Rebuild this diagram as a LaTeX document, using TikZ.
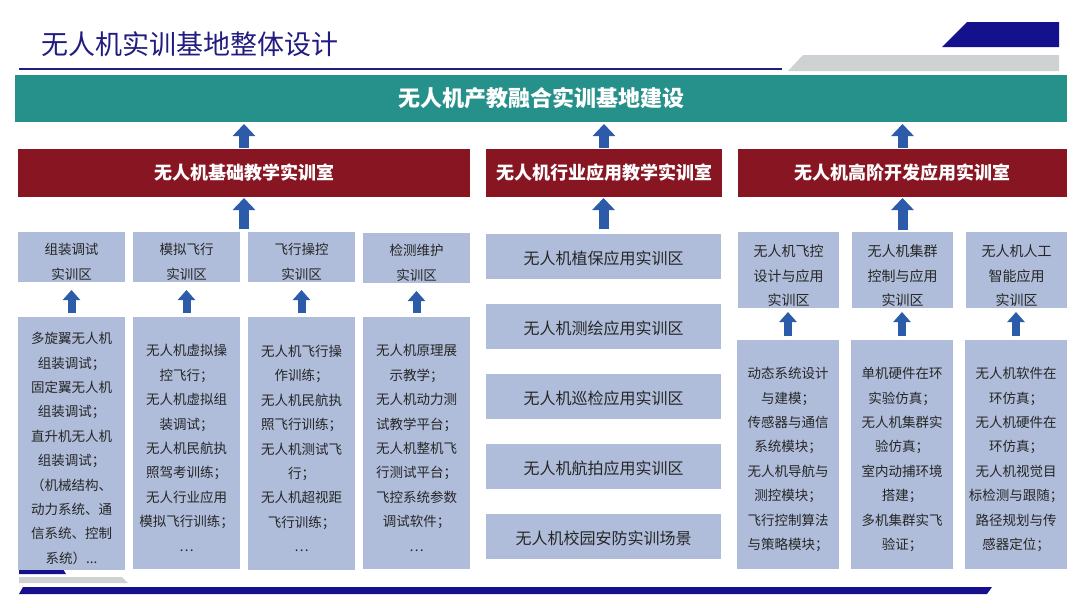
\documentclass[tikz,border=0pt]{standalone}
\usepackage{fontspec}
\setmainfont{Noto Sans CJK SC}
\usetikzlibrary{arrows.meta}
\definecolor{navy}{HTML}{15108C}
\definecolor{titlec}{HTML}{221C80}
\definecolor{tealc}{HTML}{26918A}
\definecolor{redc}{HTML}{871522}
\definecolor{boxc}{HTML}{AFBDDA}
\definecolor{grayc}{HTML}{CFD2D2}
\definecolor{arrowc}{HTML}{2B5BA9}
\definecolor{txtc}{HTML}{262626}
\tikzset{
  base/.style={anchor=north west, inner sep=0pt, outer sep=0pt, align=center},
  topbox/.style={base, fill=tealc, text=white, font=\fontsize{22}{24}\selectfont\bfseries},
  redbox/.style={base, fill=redc, text=white, minimum height=48, font=\fontsize{18}{20}\selectfont\bfseries},
  lbox/.style={base, fill=boxc},
  txt/.style={inner sep=0pt, align=center, text=txtc},
  zonetxt/.style={txt, font=\fontsize{13.5}{25}\selectfont},
  rzonetxt/.style={txt, font=\fontsize{14}{24.5}\selectfont},
  itemtxt/.style={txt, font=\fontsize{13.5}{24.4}\selectfont},
  midtxt/.style={txt, font=\fontsize{16}{18}\selectfont},
  bigarr/.style={arrowc, line width=10pt, -{Triangle[width=22pt,length=12pt]}},
  smallarr/.style={arrowc, line width=8pt, -{Triangle[width=17pt,length=10pt]}}
}
\begin{document}
\begin{tikzpicture}[x=1pt,y=-1pt]
\useasboundingbox (0,0) rectangle (1080,608);
% header decorations
\node[anchor=west, inner sep=0pt, text=titlec, font=\fontsize{27}{30}\selectfont] (title) at (41,44) {无人机实训基地整体设计};
\draw[titlec, line width=1.5pt] (19,69) -- (782,69);
\fill[grayc] (788,71) -- (803,55) -- (1059,55) -- (1059,71) -- cycle;
\fill[navy] (942,47) -- (967,22) -- (1059,22) -- (1059,47) -- cycle;
% footer decorations
\fill[navy] (19,564) -- (60,564) -- (66,574) -- (19,574) -- cycle;
\fill[grayc] (19,577) -- (122,577) -- (128,583) -- (19,583) -- cycle;
\fill[navy] (23,587) -- (992,587) -- (987,594) -- (19,594) -- cycle;

% top banner
\node[topbox, minimum width=1052, minimum height=47] (top) at (15,75) {无人机产教融合实训基地建设};
% rooms
\node[redbox, minimum width=452] (red1) at (18,149) {无人机基础教学实训室};
\node[redbox, minimum width=236] (red2) at (486,149) {无人机行业应用教学实训室};
\node[redbox, minimum width=329] (red3) at (738,149) {无人机高阶开发应用实训室};

% left group, zones
\node[lbox, minimum width=107, minimum height=50] (l2a) at (18,232) {};
\node[lbox, minimum width=107, minimum height=50] (l2b) at (133,232) {};
\node[lbox, minimum width=107, minimum height=50] (l2c) at (248,232) {};
\node[lbox, minimum width=107, minimum height=50] (l2d) at (363,233) {};
\node[zonetxt] (l2at) at ([yshift=-5pt]l2a.center) {组装调试\\实训区};
\node[zonetxt] (l2bt) at ([yshift=-5pt]l2b.center) {模拟飞行\\实训区};
\node[zonetxt] (l2ct) at ([yshift=-5pt]l2c.center) {飞行操控\\实训区};
\node[zonetxt] (l2dt) at ([yshift=-5pt]l2d.center) {检测维护\\实训区};
% left group, items
\node[lbox, minimum width=107, minimum height=253] (l3a) at (18,317) {};
\node[lbox, minimum width=107, minimum height=252] (l3b) at (133,317) {};
\node[lbox, minimum width=107, minimum height=253] (l3c) at (248,317) {};
\node[lbox, minimum width=107, minimum height=252] (l3d) at (363,317) {};
\node[itemtxt] (l3at) at ([yshift=-5pt]l3a.center) {多旋翼无人机\\组装调试；\\固定翼无人机\\组装调试；\\直升机无人机\\组装调试；\\（机械结构、\\动力系统、通\\信系统、控制\\系统）...};
\node[itemtxt] (l3bt) at ([yshift=-5pt]l3b.center) {无人机虚拟操\\控飞行；\\无人机虚拟组\\装调试；\\无人机民航执\\照驾考训练；\\无人行业应用\\模拟飞行训练；\\…};
\node[itemtxt] (l3ct) at ([yshift=-5pt]l3c.center) {无人机飞行操\\作训练；\\无人机民航执\\照飞行训练；\\无人机测试飞\\行；\\无人机超视距\\飞行训练；\\…};
\node[itemtxt] (l3dt) at ([yshift=-5pt]l3d.center) {无人机原理展\\示教学；\\无人机动力测\\试教学平台；\\无人机整机飞\\行测试平台；\\飞控系统参数\\调试软件；\\…};

% middle group
\node[lbox, minimum width=235, minimum height=45] (m1) at (486,234) {};
\node[lbox, minimum width=235, minimum height=45] (m2) at (486,304) {};
\node[lbox, minimum width=235, minimum height=45] (m3) at (486,374) {};
\node[lbox, minimum width=235, minimum height=45] (m4) at (486,444) {};
\node[lbox, minimum width=235, minimum height=45] (m5) at (486,514) {};
\node[midtxt] (m1t) at ([yshift=-2pt]m1.center) {无人机植保应用实训区};
\node[midtxt] (m2t) at ([yshift=-2pt]m2.center) {无人机测绘应用实训区};
\node[midtxt] (m3t) at ([yshift=-2pt]m3.center) {无人机巡检应用实训区};
\node[midtxt] (m4t) at ([yshift=-2pt]m4.center) {无人机航拍应用实训区};
\node[midtxt] (m5t) at ([yshift=-2pt]m5.center) {无人机校园安防实训场景};

% right group, zones
\node[lbox, minimum width=101, minimum height=76] (r2a) at (738,232) {};
\node[lbox, minimum width=101, minimum height=76] (r2b) at (852,232) {};
\node[lbox, minimum width=101, minimum height=76] (r2c) at (966,232) {};
\node[rzonetxt] (r2at) at ([yshift=-6pt]r2a.center) {无人机飞控\\设计与应用\\实训区};
\node[rzonetxt] (r2bt) at ([yshift=-6pt]r2b.center) {无人机集群\\控制与应用\\实训区};
\node[rzonetxt] (r2ct) at ([yshift=-6pt]r2c.center) {无人机人工\\智能应用\\实训区};
% right group, items
\node[lbox, minimum width=102, minimum height=229] (r3a) at (737,340) {};
\node[lbox, minimum width=102, minimum height=229] (r3b) at (851,340) {};
\node[lbox, minimum width=102, minimum height=229] (r3c) at (965,340) {};
\node[itemtxt] (r3at) at ([yshift=-5pt]r3a.center) {动态系统设计\\与建模；\\传感器与通信\\系统模块；\\无人机导航与\\测控模块；\\飞行控制算法\\与策略模块；};
\node[itemtxt] (r3bt) at ([yshift=-5pt]r3b.center) {单机硬件在环\\实验仿真；\\无人机集群实\\验仿真；\\室内动捕环境\\搭建；\\多机集群实飞\\验证；};
\node[itemtxt] (r3ct) at ([yshift=-5pt]r3c.center) {无人机软件在\\环仿真；\\无人机硬件在\\环仿真；\\无人机视觉目\\标检测与跟随；\\路径规划与传\\感器定位；};

% arrows rooms -> banner
\draw[bigarr, shorten <=1pt, shorten >=2pt] (red1.north) -- (red1.north |- top.south);
\draw[bigarr, shorten <=1pt, shorten >=2pt] (red2.north) -- (red2.north |- top.south);
\draw[bigarr, shorten <=1pt, shorten >=2pt] (red3.north) -- (red3.north |- top.south);
% arrows zones -> rooms
\coordinate (la) at (244,229);
\draw[bigarr, shorten >=1pt] (la) -- (red1.south);
\draw[bigarr, shorten <=5pt, shorten >=1pt] (m1.north) -- (m1.north |- red2.south);
\draw[bigarr, shorten <=2pt, shorten >=1pt] (r2b.north) -- (r2b.north |- red3.south);
% arrows items -> zones
\draw[smallarr, shorten <=4pt, shorten >=8pt] (l3a.north) -- (l3a.north |- l2a.south);
\draw[smallarr, shorten <=4pt, shorten >=8pt] (l3b.north) -- (l3b.north |- l2b.south);
\draw[smallarr, shorten <=4pt, shorten >=8pt] (l3c.north) -- (l3c.north |- l2c.south);
\draw[smallarr, shorten <=4pt, shorten >=8pt] (l3d.north) -- (l3d.north |- l2d.south);
\draw[smallarr, shorten <=4pt, shorten >=4pt] (r3a.north) -- (r3a.north |- r2a.south);
\draw[smallarr, shorten <=4pt, shorten >=4pt] (r3b.north) -- (r3b.north |- r2b.south);
\draw[smallarr, shorten <=4pt, shorten >=4pt] (r3c.north) -- (r3c.north |- r2c.south);
\end{tikzpicture}
\end{document}
